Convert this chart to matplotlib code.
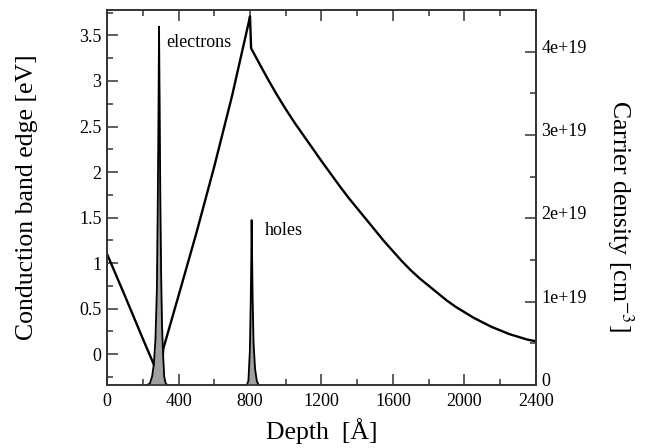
import numpy as np
import matplotlib
matplotlib.use("Agg")
import matplotlib.pyplot as plt
import matplotlib.transforms as mtransforms
from matplotlib.ticker import MultipleLocator

# conduction band edge [eV] vs depth [A]
cb_depth = [0, 100, 200, 302, 315, 400, 500, 600, 700, 790, 800, 806,
            850, 900, 950, 1000, 1050, 1100, 1150, 1200, 1250, 1300, 1350,
            1400, 1450, 1500, 1550, 1600, 1650, 1700, 1750, 1800, 1850, 1900,
            1950, 2000, 2050, 2100, 2150, 2200, 2250, 2300, 2350, 2400]
cb_energy = [1.10, 0.64, 0.17, -0.30, 0.06, 0.64, 1.33, 2.06, 2.84, 3.62,
             3.71, 3.36, 3.20, 3.02, 2.85, 2.69, 2.54, 2.40, 2.26, 2.12,
             1.985, 1.85, 1.72, 1.60, 1.48, 1.36, 1.24, 1.13, 1.02, 0.92,
             0.83, 0.75, 0.67, 0.59, 0.52, 0.46, 0.40, 0.35, 0.30, 0.26,
             0.22, 0.19, 0.16, 0.14]

# electron density [1e19 cm^-3]
el_depth = [225, 240, 252, 262, 271, 279, 284, 288, 291, 294, 298, 303, 308,
            314, 320, 328, 338]
el_dens = [0.0, 0.02, 0.10, 0.25, 0.55, 1.15, 2.20, 3.30, 4.30, 3.50, 2.30,
           1.30, 0.70, 0.35, 0.10, 0.02, 0.0]

# hole density [1e19 cm^-3]
h_depth = [782, 791, 799, 804, 807, 809, 812, 815, 820, 828, 838, 848]
h_dens = [0.0, 0.05, 0.40, 1.00, 1.50, 1.98, 1.50, 1.00, 0.50, 0.20, 0.05, 0.0]

plt.rcParams.update({"font.family": "Liberation Serif",
                     "mathtext.fontset": "stix",
                     "axes.linewidth": 1.2})

fig = plt.figure(figsize=(6.51, 4.48), dpi=100)
ax = fig.add_axes([0.1644, 0.1406, 0.6589, 0.8371])
ax2 = ax.twinx()

ax.plot(cb_depth, cb_energy, color="black", lw=1.7)

el_y = np.array(el_dens) * 1e19
h_y = np.array(h_dens) * 1e19
ax2.fill_between(el_depth, 0, el_y, color="#a0a0a0", lw=0)
ax2.plot(el_depth, el_y, color="black", lw=1.3)
ax2.fill_between(h_depth, 0, h_y, color="#a0a0a0", lw=0)
ax2.plot(h_depth, h_y, color="black", lw=1.3)

ax.set_xlim(0, 2400)
ax.set_ylim(-0.34, 3.78)
ax2.set_ylim(0, 4.5e19)

ax.xaxis.set_major_locator(MultipleLocator(400))
ax.xaxis.set_minor_locator(MultipleLocator(200))
ax.yaxis.set_minor_locator(MultipleLocator(0.25))
ax2.yaxis.set_minor_locator(MultipleLocator(5e18))

ax.set_yticks([0, 0.5, 1, 1.5, 2, 2.5, 3, 3.5])
ax.set_yticklabels(["0", "0.5", "1", "1.5", "2", "2.5", "3", "3.5"])
ax2.set_yticks([0, 1e19, 2e19, 3e19, 4e19])
ax2.set_yticklabels(["0", "1e+19", "2e+19", "3e+19", "4e+19"])

ax.tick_params(axis="x", which="both", direction="in", top=True,
               labelsize=13, pad=6)
ax.tick_params(axis="y", which="both", direction="in", right=False,
               labelsize=13, pad=4)
ax2.tick_params(axis="y", which="both", direction="in", labelsize=13, pad=4)
for a in (ax, ax2):
    a.tick_params(which="major", length=8, width=1.1, color="#333333")
    a.tick_params(which="minor", length=4.5, width=1.1, color="#333333")
    for s in a.spines.values():
        s.set_color("#333333")

# right-hand labels sit a little above their ticks
shift = mtransforms.ScaledTranslation(0, 4 / 72, fig.dpi_scale_trans)
for lbl in ax2.get_yticklabels():
    lbl.set_transform(lbl.get_transform() + shift)

ax.set_xlabel("Depth  [Å]", fontsize=18.5, va="center")
ax.xaxis.set_label_coords(0.5, -0.123)
ax.set_ylabel("Conduction band edge [eV]", fontsize=18.5, va="center")
ax.yaxis.set_label_coords(-0.186, 0.5)
ax2.set_ylabel("Carrier density [cm$^{-3}$]", fontsize=18.5, rotation=270,
               va="center", ha="center")
ax2.yaxis.set_label_coords(1.196, 0.451)

ax.text(330, 3.42, "electrons", fontsize=13, va="center", ha="left")
ax.text(884, 1.36, "holes", fontsize=13, va="center", ha="left")

fig.savefig("out.png", dpi=100)
